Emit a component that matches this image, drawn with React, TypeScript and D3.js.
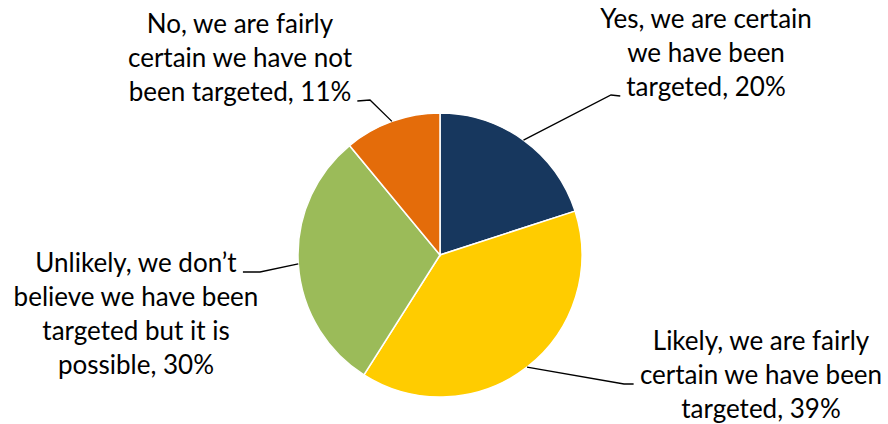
import React from "react";
import * as d3 from "d3";

const categories = [
  "Yes, we are certain we have been targeted",
  "Likely, we are fairly certain we have been targeted",
  "Unlikely, we don\u2019t believe we have been targeted but it is possible",
  "No, we are fairly certain we have not been targeted",
];
const values = [20, 39, 30, 11];
const colors = ["#17375E", "#FFCC00", "#9BBB59", "#E46C0A"];
const labelLines = [
  ["Yes, we are certain", "we have been", "targeted, 20%"],
  ["Likely, we are fairly", "certain we have been", "targeted, 39%"],
  ["Unlikely, we don\u2019t", "believe we have been", "targeted but it is", "possible, 30%"],
  ["No, we are fairly", "certain we have not", "been targeted, 11%"],
];

// layout for labels: center x, first baseline y, elbow point, which line the leader meets, side
const labelLayout = [
  { cx: 706, y0: 28, elbow: [611, 95], lineIdx: 2, side: "left" },
  { cx: 761, y0: 350, elbow: [624, 384], lineIdx: 1, side: "left" },
  { cx: 136, y0: 272, elbow: [260, 272], lineIdx: 0, side: "right" },
  { cx: 240, y0: 33, elbow: [370, 100], lineIdx: 2, side: "right" },
];

const W = 888;
const H = 424;
const CX = 440;
const CY = 255;
const R = 142;
const FONT = "Lato, 'Open Sans', sans-serif";
const FS = 26;
const LH = 34;

function textWidth(s: string): number {
  const c = document.createElement("canvas").getContext("2d");
  if (!c) return s.length * FS * 0.48;
  c.font = `${FS}px ${FONT}`;
  return c.measureText(s).width;
}

export default function App() {
  const pie = d3
    .pie<number>()
    .sort(null)
    .value((d) => d);
  const arcs = pie(values);
  const arc = d3.arc<d3.PieArcDatum<number>>().innerRadius(0).outerRadius(R);
  const edge = d3.arc<d3.PieArcDatum<number>>().innerRadius(R).outerRadius(R);

  return (
    <svg
      width={W}
      height={H}
      style={{ position: "absolute", left: 0, top: 0, background: "#fff" }}
      fontFamily={FONT}
    >
      <g transform={`translate(${CX},${CY})`}>
        {arcs.map((a, i) => (
          <path key={i} d={arc(a) || ""} fill={colors[i]} stroke="#fff" strokeWidth={1.5}>
            <title>{categories[i]}</title>
          </path>
        ))}
      </g>
      {arcs.map((a, i) => {
        const L = labelLayout[i];
        const [px, py] = edge.centroid(a);
        const lines = labelLines[i];
        const ly = L.y0 + L.lineIdx * LH;
        const lw = textWidth(lines[L.lineIdx]);
        const endX = L.side === "left" ? L.cx - lw / 2 - 6 : L.cx + lw / 2 + 6;
        const pts: [number, number][] = [
          [CX + px, CY + py],
          [L.elbow[0], L.elbow[1]],
          [endX, ly - 0],
        ];
        return (
          <g key={i}>
            <path
              d={d3.line()(pts) || ""}
              fill="none"
              stroke="#000"
              strokeWidth={1.3}
            />
            <text fontSize={FS} textAnchor="middle" fill="#000">
              {lines.map((t, j) => (
                <tspan key={j} x={L.cx} y={L.y0 + j * LH}>
                  {t}
                </tspan>
              ))}
            </text>
          </g>
        );
      })}
    </svg>
  );
}
